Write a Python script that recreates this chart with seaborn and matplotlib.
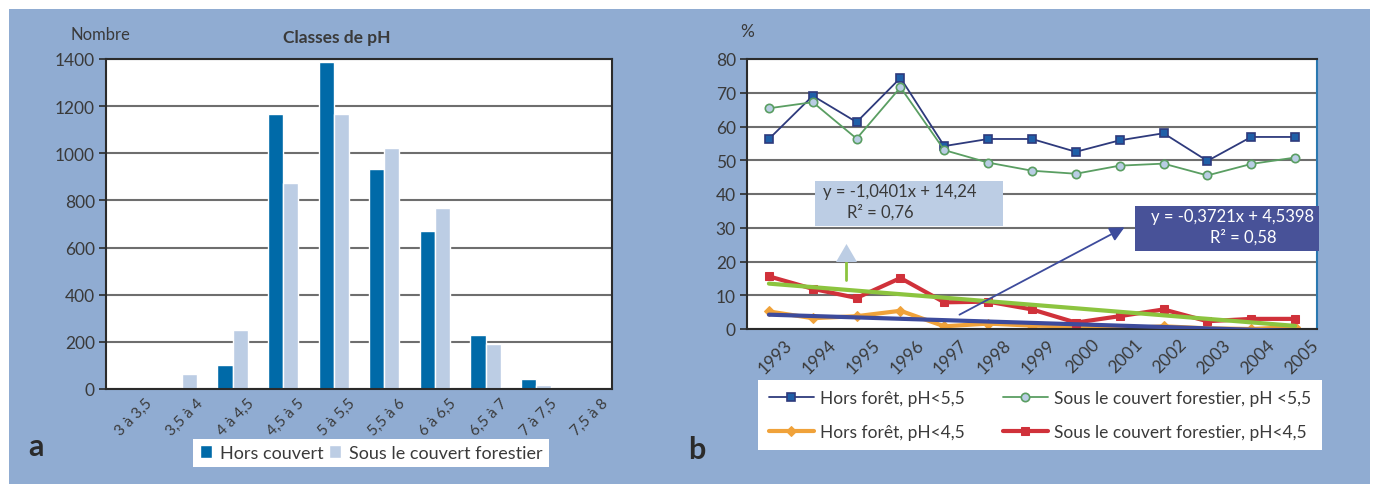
import numpy as np
import pandas as pd
import seaborn as sns
import matplotlib.pyplot as plt
from matplotlib.patches import Rectangle, Polygon, FancyArrowPatch
from matplotlib.lines import Line2D
from matplotlib.transforms import ScaledTranslation

# panel a: pH classes
ph_classes = ['3 à 3,5', '3,5 à 4', '4 à 4,5', '4,5 à 5', '5 à 5,5',
              '5,5 à 6', '6 à 6,5', '6,5 à 7', '7 à 7,5', '7,5 à 8']
hors_couvert = [2, 0, 101, 1168, 1386, 932, 670, 227, 42, 4]
sous_couvert = [3, 62, 252, 873, 1168, 1022, 770, 189, 16, 1]
series_a = ['Hors couvert', 'Sous le couvert forestier']

# panel b: yearly percentages
years = ['1993', '1994', '1995', '1996', '1997', '1998', '1999',
         '2000', '2001', '2002', '2003', '2004', '2005']
hors_lt55 = [56.3, 69.1, 61.3, 74.4, 54.2, 56.3, 56.3, 52.5, 55.9, 58.0, 49.8, 56.9, 56.9]
sous_lt55 = [65.4, 67.2, 56.4, 71.6, 53.0, 49.3, 46.9, 46.0, 48.4, 49.0, 45.5, 48.9, 50.8]
hors_lt45 = [5.2, 3.2, 3.8, 5.4, 0.8, 1.6, 1.0, 0.8, 0.1, 0.8, 0.2, 0.0, 0.6]
sous_lt45 = [15.6, 11.9, 9.2, 15.1, 7.9, 8.1, 5.8, 1.9, 3.8, 5.8, 2.3, 3.0, 3.0]
labels_b = ['Hors forêt, pH<5,5', 'Hors forêt, pH<4,5',
            'Sous le couvert forestier, pH <5,5', 'Sous le couvert forestier, pH<4,5']

BG = '#90acd2'
TXT = '#3a3a3a'
W, H = 1376, 485

sns.set_style('white')
plt.rcParams['font.family'] = ['Lato', 'DejaVu Sans']

fig = plt.figure(figsize=(W / 100, H / 100), dpi=100)
fig.patch.set_facecolor('white')


def px(x, y):
    return x / W, (H - y) / H


fig.patches.append(Rectangle(px(9, 485), (1370 - 9) / W, (485 - 10) / H,
                             transform=fig.transFigure, facecolor=BG, edgecolor='none', zorder=-10))


def style_axes(ax, n):
    ax.set_facecolor('white')
    ax.yaxis.grid(True, color='#6e6e6e', lw=1.5)
    ax.set_axisbelow(True)
    for s in ax.spines.values():
        s.set_color('#2b2b2b')
        s.set_linewidth(1.5)
    ax.set_xlim(-0.5, n - 0.5)
    ax.set_xticks(np.arange(n))
    ax.set_xticks(np.arange(n + 1) - 0.5, minor=True)
    ax.tick_params(axis='x', which='major', length=0, pad=5, labelcolor=TXT)
    ax.tick_params(axis='x', which='minor', length=5, width=1.2, color='#2b2b2b', direction='out')
    ax.tick_params(axis='y', length=5, width=1.2, color='#2b2b2b', direction='out',
                   labelsize=12.5, labelcolor=TXT, pad=3, left=True)
    ax.set_xlabel('')
    ax.set_ylabel('')


def rotate_labels(ax, size, dx):
    shift = ScaledTranslation(dx / 100, 0, fig.dpi_scale_trans)
    for t in ax.get_xticklabels():
        t.set_rotation(45)
        t.set_ha('right')
        t.set_rotation_mode('anchor')
        t.set_fontsize(size)
        t.set_transform(t.get_transform() + shift)


# ---- panel a
ax_a = fig.add_axes([106 / W, (H - 390) / H, (612 - 106) / W, (390 - 60) / H])
df_a = pd.DataFrame({
    'classe': ph_classes * 2,
    'nombre': hors_couvert + sous_couvert,
    'serie': [series_a[0]] * len(ph_classes) + [series_a[1]] * len(ph_classes),
})
sns.barplot(data=df_a, x='classe', y='nombre', hue='serie', palette=['#006aa8', '#bccde4'],
            width=0.6, gap=0, saturation=1, ax=ax_a)
handles_a, lab_a = ax_a.get_legend_handles_labels()
ax_a.legend_.remove()
ax_a.set_ylim(0, 1400)
ax_a.set_yticks(range(0, 1401, 200))
style_axes(ax_a, len(ph_classes))
ax_a.set_xticks(np.arange(len(ph_classes)), ph_classes)
rotate_labels(ax_a, 11, 14)

fig.legend(handles_a, lab_a, loc='center', bbox_to_anchor=px(371, 454), ncol=2,
           fontsize=13, frameon=True, facecolor='white', edgecolor='none', fancybox=False,
           framealpha=1, handlelength=0.7, handleheight=0.7, handletextpad=0.4,
           columnspacing=0.3, borderpad=0.35, labelcolor=TXT)

fig.text(*px(100, 35), 'Nombre', ha='center', va='center', fontsize=12, color=TXT)
fig.text(*px(337, 38), 'Classes de pH', ha='center', va='center', fontsize=12.5,
         fontweight='bold', color=TXT)
fig.text(*px(36, 447), 'a', ha='center', va='center', fontsize=22, fontweight='bold', color='#2b2b2b')

# ---- panel b
ax_b = fig.add_axes([747 / W, (H - 330) / H, (1317 - 747) / W, (330 - 60) / H])
pos = np.arange(len(years))
sns.lineplot(x=pos, y=hors_lt55, ax=ax_b, color='#2e3a7c', lw=1.3, marker='s', markersize=5.5,
             markerfacecolor='#1f5fa8', markeredgecolor='#2e3a7c', markeredgewidth=1.2, label=labels_b[0])
sns.lineplot(x=pos, y=sous_lt55, ax=ax_b, color='#5a9e62', lw=1.3, marker='o', markersize=6,
             markerfacecolor='#b9cde4', markeredgecolor='#5a9e62', markeredgewidth=1.2, label=labels_b[2])
sns.lineplot(x=pos, y=hors_lt45, ax=ax_b, color='#f0a23a', lw=3, marker='D', markersize=5.5,
             markerfacecolor='#f0a23a', markeredgecolor='#f0a23a', label=labels_b[1])
sns.lineplot(x=pos, y=sous_lt45, ax=ax_b, color='#d0313a', lw=3, marker='s', markersize=6,
             markerfacecolor='#d0313a', markeredgecolor='#d0313a', label=labels_b[3])
sns.regplot(x=pos, y=sous_lt45, ax=ax_b, scatter=False, ci=None, truncate=True,
            line_kws=dict(color='#8cc43f', lw=3, zorder=5))
sns.regplot(x=pos, y=hors_lt45, ax=ax_b, scatter=False, ci=None, truncate=True,
            line_kws=dict(color='#3d4b9c', lw=3, zorder=5))
hb, lb = ax_b.get_legend_handles_labels()
ax_b.legend_.remove()
order = [lb.index(l) for l in labels_b]
ax_b.set_ylim(0, 80)
ax_b.set_yticks(range(0, 81, 10))
style_axes(ax_b, len(years))
ax_b.spines['right'].set_color('#2a78b0')
ax_b.set_xticks(pos, years)
rotate_labels(ax_b, 12.5, 15)

fig.legend([hb[i] for i in order], labels_b, loc='center', bbox_to_anchor=px(1040, 416), ncol=2,
           fontsize=12.5, frameon=True, facecolor='white', edgecolor='none', fancybox=False,
           framealpha=1, handlelength=2.6, handletextpad=0.35, columnspacing=2.2,
           labelspacing=1.0, borderpad=0.6, borderaxespad=0, labelcolor=TXT)

fig.text(*px(747, 32), '%', ha='center', va='center', fontsize=12.5, color=TXT)
fig.text(*px(697, 450), 'b', ha='center', va='center', fontsize=22, fontweight='bold', color='#2b2b2b')

# equation boxes and arrows
fig.patches.append(Rectangle(px(815, 227), (1003 - 815) / W, (227 - 182) / H,
                             transform=fig.transFigure, facecolor='#bccde4', edgecolor='none', zorder=6))
fig.text(*px(823, 192), 'y = -1,0401x + 14,24', ha='left', va='center', fontsize=12, color=TXT, zorder=7)
fig.text(*px(847, 212), 'R² = 0,76', ha='left', va='center', fontsize=12, color=TXT, zorder=7)
fig.lines.append(Line2D([846 / W, 846 / W], [px(0, 281)[1], px(0, 263)[1]],
                        transform=fig.transFigure, color='#8cc43f', lw=2, zorder=6))
fig.patches.append(Polygon([px(836, 263), px(857, 263), px(846.5, 245)], closed=True,
                           transform=fig.transFigure, facecolor='#bccde4', edgecolor='none', zorder=6))

fig.patches.append(Rectangle(px(1135, 252), (1319 - 1135) / W, (252 - 207) / H,
                             transform=fig.transFigure, facecolor='#485298', edgecolor='none', zorder=6))
fig.text(*px(1151, 217), 'y = -0,3721x + 4,5398', ha='left', va='center', fontsize=12, color='white', zorder=7)
fig.text(*px(1210, 237), 'R² = 0,58', ha='left', va='center', fontsize=12, color='white', zorder=7)
fig.patches.append(FancyArrowPatch(px(957, 317), px(1127, 227), transform=fig.transFigure,
                                   arrowstyle='-|>', mutation_scale=22, color='#3d4b9c', lw=1.3, zorder=6))

fig.savefig('out.png', dpi=100, facecolor='white')
